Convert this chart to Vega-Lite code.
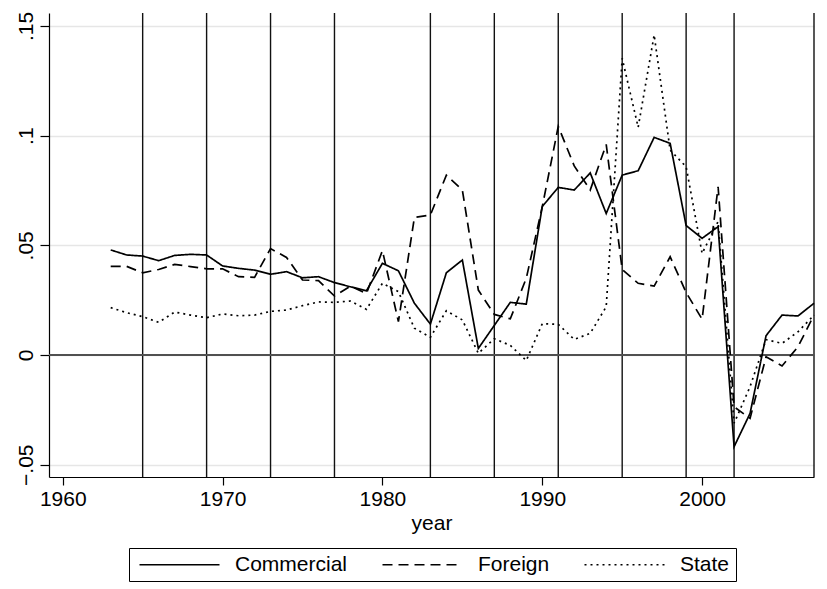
{
  "$schema": "https://vega.github.io/schema/vega-lite/v6.json",
  "width": 765,
  "height": 464,
  "autosize": {"type": "none"},
  "padding": {"left": 49, "top": 13, "right": 13, "bottom": 112},
  "background": "white",
  "datasets": {
    "series": [
      {"year": 1963, "series": "Commercial", "value": 0.0479},
      {"year": 1964, "series": "Commercial", "value": 0.0456},
      {"year": 1965, "series": "Commercial", "value": 0.0451},
      {"year": 1966, "series": "Commercial", "value": 0.0430},
      {"year": 1967, "series": "Commercial", "value": 0.0454},
      {"year": 1968, "series": "Commercial", "value": 0.0459},
      {"year": 1969, "series": "Commercial", "value": 0.0456},
      {"year": 1970, "series": "Commercial", "value": 0.0406},
      {"year": 1971, "series": "Commercial", "value": 0.0395},
      {"year": 1972, "series": "Commercial", "value": 0.0387},
      {"year": 1973, "series": "Commercial", "value": 0.0368},
      {"year": 1974, "series": "Commercial", "value": 0.0380},
      {"year": 1975, "series": "Commercial", "value": 0.0352},
      {"year": 1976, "series": "Commercial", "value": 0.0357},
      {"year": 1977, "series": "Commercial", "value": 0.0330},
      {"year": 1978, "series": "Commercial", "value": 0.0311},
      {"year": 1979, "series": "Commercial", "value": 0.0293},
      {"year": 1980, "series": "Commercial", "value": 0.0418},
      {"year": 1981, "series": "Commercial", "value": 0.0384},
      {"year": 1982, "series": "Commercial", "value": 0.0236},
      {"year": 1983, "series": "Commercial", "value": 0.0141},
      {"year": 1984, "series": "Commercial", "value": 0.0375},
      {"year": 1985, "series": "Commercial", "value": 0.0433},
      {"year": 1986, "series": "Commercial", "value": 0.0030},
      {"year": 1987, "series": "Commercial", "value": 0.0135},
      {"year": 1988, "series": "Commercial", "value": 0.0240},
      {"year": 1989, "series": "Commercial", "value": 0.0232},
      {"year": 1990, "series": "Commercial", "value": 0.0677},
      {"year": 1991, "series": "Commercial", "value": 0.0764},
      {"year": 1992, "series": "Commercial", "value": 0.0752},
      {"year": 1993, "series": "Commercial", "value": 0.0830},
      {"year": 1994, "series": "Commercial", "value": 0.0645},
      {"year": 1995, "series": "Commercial", "value": 0.0820},
      {"year": 1996, "series": "Commercial", "value": 0.0840},
      {"year": 1997, "series": "Commercial", "value": 0.0992},
      {"year": 1998, "series": "Commercial", "value": 0.0965},
      {"year": 1999, "series": "Commercial", "value": 0.0590},
      {"year": 2000, "series": "Commercial", "value": 0.0532},
      {"year": 2001, "series": "Commercial", "value": 0.0585},
      {"year": 2002, "series": "Commercial", "value": -0.0418},
      {"year": 2003, "series": "Commercial", "value": -0.0266},
      {"year": 2004, "series": "Commercial", "value": 0.0088},
      {"year": 2005, "series": "Commercial", "value": 0.0182},
      {"year": 2006, "series": "Commercial", "value": 0.0178},
      {"year": 2007, "series": "Commercial", "value": 0.0236},
      {"year": 1963, "series": "Foreign", "value": 0.0404},
      {"year": 1964, "series": "Foreign", "value": 0.0404},
      {"year": 1965, "series": "Foreign", "value": 0.0375},
      {"year": 1966, "series": "Foreign", "value": 0.0390},
      {"year": 1967, "series": "Foreign", "value": 0.0413},
      {"year": 1968, "series": "Foreign", "value": 0.0403},
      {"year": 1969, "series": "Foreign", "value": 0.0393},
      {"year": 1970, "series": "Foreign", "value": 0.0393},
      {"year": 1971, "series": "Foreign", "value": 0.0357},
      {"year": 1972, "series": "Foreign", "value": 0.0354},
      {"year": 1973, "series": "Foreign", "value": 0.0485},
      {"year": 1974, "series": "Foreign", "value": 0.0445},
      {"year": 1975, "series": "Foreign", "value": 0.0342},
      {"year": 1976, "series": "Foreign", "value": 0.0339},
      {"year": 1977, "series": "Foreign", "value": 0.0269},
      {"year": 1978, "series": "Foreign", "value": 0.0314},
      {"year": 1979, "series": "Foreign", "value": 0.0280},
      {"year": 1980, "series": "Foreign", "value": 0.0476},
      {"year": 1981, "series": "Foreign", "value": 0.0152},
      {"year": 1982, "series": "Foreign", "value": 0.0627},
      {"year": 1983, "series": "Foreign", "value": 0.0638},
      {"year": 1984, "series": "Foreign", "value": 0.0820},
      {"year": 1985, "series": "Foreign", "value": 0.0752},
      {"year": 1986, "series": "Foreign", "value": 0.0296},
      {"year": 1987, "series": "Foreign", "value": 0.0185},
      {"year": 1988, "series": "Foreign", "value": 0.0165},
      {"year": 1989, "series": "Foreign", "value": 0.0350},
      {"year": 1990, "series": "Foreign", "value": 0.0676},
      {"year": 1991, "series": "Foreign", "value": 0.1042},
      {"year": 1992, "series": "Foreign", "value": 0.0862},
      {"year": 1993, "series": "Foreign", "value": 0.0752},
      {"year": 1994, "series": "Foreign", "value": 0.0960},
      {"year": 1995, "series": "Foreign", "value": 0.0390},
      {"year": 1996, "series": "Foreign", "value": 0.0327},
      {"year": 1997, "series": "Foreign", "value": 0.0314},
      {"year": 1998, "series": "Foreign", "value": 0.0448},
      {"year": 1999, "series": "Foreign", "value": 0.0285},
      {"year": 2000, "series": "Foreign", "value": 0.0163},
      {"year": 2001, "series": "Foreign", "value": 0.0767},
      {"year": 2002, "series": "Foreign", "value": -0.0236},
      {"year": 2003, "series": "Foreign", "value": -0.0289},
      {"year": 2004, "series": "Foreign", "value": -0.0008},
      {"year": 2005, "series": "Foreign", "value": -0.0050},
      {"year": 2006, "series": "Foreign", "value": 0.0038},
      {"year": 2007, "series": "Foreign", "value": 0.0182},
      {"year": 1963, "series": "State", "value": 0.0216},
      {"year": 1964, "series": "State", "value": 0.0193},
      {"year": 1965, "series": "State", "value": 0.0175},
      {"year": 1966, "series": "State", "value": 0.0149},
      {"year": 1967, "series": "State", "value": 0.0196},
      {"year": 1968, "series": "State", "value": 0.0182},
      {"year": 1969, "series": "State", "value": 0.0170},
      {"year": 1970, "series": "State", "value": 0.0187},
      {"year": 1971, "series": "State", "value": 0.0179},
      {"year": 1972, "series": "State", "value": 0.0182},
      {"year": 1973, "series": "State", "value": 0.0199},
      {"year": 1974, "series": "State", "value": 0.0205},
      {"year": 1975, "series": "State", "value": 0.0225},
      {"year": 1976, "series": "State", "value": 0.0242},
      {"year": 1977, "series": "State", "value": 0.0240},
      {"year": 1978, "series": "State", "value": 0.0246},
      {"year": 1979, "series": "State", "value": 0.0208},
      {"year": 1980, "series": "State", "value": 0.0327},
      {"year": 1981, "series": "State", "value": 0.0289},
      {"year": 1982, "series": "State", "value": 0.0122},
      {"year": 1983, "series": "State", "value": 0.0081},
      {"year": 1984, "series": "State", "value": 0.0202},
      {"year": 1985, "series": "State", "value": 0.0160},
      {"year": 1986, "series": "State", "value": 0.0008},
      {"year": 1987, "series": "State", "value": 0.0074},
      {"year": 1988, "series": "State", "value": 0.0044},
      {"year": 1989, "series": "State", "value": -0.0025},
      {"year": 1990, "series": "State", "value": 0.0143},
      {"year": 1991, "series": "State", "value": 0.0140},
      {"year": 1992, "series": "State", "value": 0.0071},
      {"year": 1993, "series": "State", "value": 0.0099},
      {"year": 1994, "series": "State", "value": 0.0220},
      {"year": 1995, "series": "State", "value": 0.1352},
      {"year": 1996, "series": "State", "value": 0.1038},
      {"year": 1997, "series": "State", "value": 0.1459},
      {"year": 1998, "series": "State", "value": 0.0934},
      {"year": 1999, "series": "State", "value": 0.0858},
      {"year": 2000, "series": "State", "value": 0.0463},
      {"year": 2001, "series": "State", "value": 0.0608},
      {"year": 2002, "series": "State", "value": -0.0311},
      {"year": 2003, "series": "State", "value": -0.0144},
      {"year": 2004, "series": "State", "value": 0.0070},
      {"year": 2005, "series": "State", "value": 0.0053},
      {"year": 2006, "series": "State", "value": 0.0106},
      {"year": 2007, "series": "State", "value": 0.0182}
    ],
    "vlines": [
      {"year": 1965}, {"year": 1969}, {"year": 1973}, {"year": 1977},
      {"year": 1983}, {"year": 1987}, {"year": 1991}, {"year": 1995},
      {"year": 1999}, {"year": 2002}, {"year": 2007}
    ],
    "hline": [{"value": 0}]
  },
  "layer": [
    {
      "data": {"name": "vlines"},
      "mark": {"type": "rule", "color": "#111111", "strokeWidth": 1.4},
      "encoding": {
        "x": {"field": "year", "type": "quantitative", "title": "year"}
      }
    },
    {
      "data": {"name": "hline"},
      "mark": {"type": "rule", "color": "#505050", "strokeWidth": 1.8},
      "encoding": {
        "y": {"field": "value", "type": "quantitative", "title": null}
      }
    },
    {
      "data": {"name": "series"},
      "mark": {"type": "line", "color": "black", "strokeWidth": 1.7},
      "encoding": {
        "x": {
          "field": "year",
          "type": "quantitative",
          "title": "year",
          "scale": {"domain": [1959.14, 2007.0], "nice": false, "zero": false},
          "axis": {
            "values": [1960, 1970, 1980, 1990, 2000],
            "format": "d",
            "grid": false,
            "tickSize": 8,
            "labelPadding": 3,
            "titlePadding": 3
          }
        },
        "y": {
          "field": "value",
          "type": "quantitative",
          "title": null,
          "scale": {"domain": [-0.0556, 0.1559], "nice": false, "zero": false},
          "axis": {
            "values": [-0.05, 0, 0.05, 0.1, 0.15],
            "labelExpr": "datum.value == 0 ? '0' : replace(format(datum.value, ''), '0.', '.')",
            "grid": true,
            "gridColor": "#e6e6e6",
            "gridWidth": 1.5,
            "tickSize": 9,
            "labelAngle": -90,
            "labelAlign": "center",
            "labelBaseline": "bottom",
            "labelPadding": 4
          }
        },
        "strokeDash": {
          "field": "series",
          "type": "nominal",
          "scale": {
            "domain": ["Commercial", "Foreign", "State"],
            "range": [[1, 0], [10, 6], [2, 4]]
          },
          "legend": {
            "title": null,
            "orient": "none",
            "legendX": 80,
            "legendY": 535,
            "direction": "horizontal",
            "strokeColor": "black",
            "fillColor": "white",
            "padding": 6,
            "symbolType": "M-1.2,0H14.8",
            "symbolSize": 100,
            "symbolStrokeWidth": 1.6,
            "symbolStrokeColor": "black",
            "symbolFillColor": "transparent",
            "labelOffset": 79,
            "columnPadding": 30,
            "labelFontSize": 21,
            "labelFont": "Liberation Sans",
            "labelColor": "black"
          }
        }
      }
    }
  ],
  "config": {
    "view": {"stroke": null},
    "font": "Liberation Sans",
    "axis": {
      "domainColor": "black",
      "domainWidth": 1.2,
      "tickColor": "black",
      "tickWidth": 1.2,
      "labelFont": "Liberation Sans",
      "labelFontSize": 21,
      "labelColor": "black",
      "titleFont": "Liberation Sans",
      "titleFontSize": 21,
      "titleFontWeight": "normal",
      "titleColor": "black"
    }
  }
}
